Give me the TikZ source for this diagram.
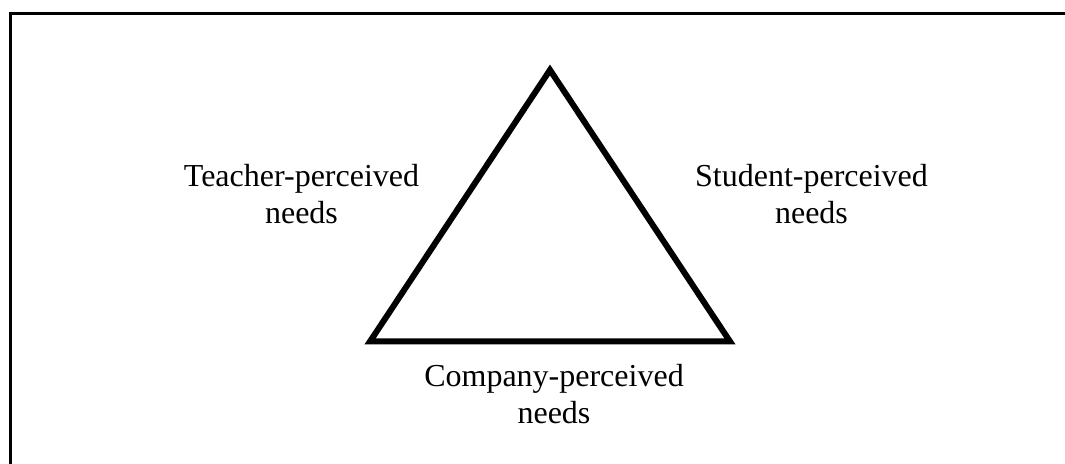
\documentclass[tikz,border=0pt]{standalone}
\usepackage{fontspec}
\setmainfont{Liberation Serif}
\begin{document}
\begin{tikzpicture}[x=1bp,y=-1bp,
  lbl/.style={align=center,inner sep=0pt,anchor=base,font=\fontsize{32bp}{37.3bp}\selectfont},
  tri/.style={draw=black,line width=6bp,line join=miter},
  frame/.style={draw=black,line width=3bp}]
\useasboundingbox (0,0) rectangle (1065,464);
\coordinate (fl) at (10,464);
\coordinate (fc) at (10,14);
\coordinate (fr) at (1065,14);
\draw[frame] (fl) -- (fc) -- (fr);
\coordinate (top) at (550,70);
\coordinate (bl) at (370,341.5);
\coordinate (br) at (730,341.5);
\draw[tri] (top) -- (br) -- (bl) -- cycle;
\node[lbl] (teacher) at (301.5,224) {Teacher-perceived\\needs};
\node[lbl] (student) at (811.5,224) {Student-perceived\\needs};
\node[lbl] (company) at (554,423.7) {Company-perceived\\needs};
\end{tikzpicture}
\end{document}
